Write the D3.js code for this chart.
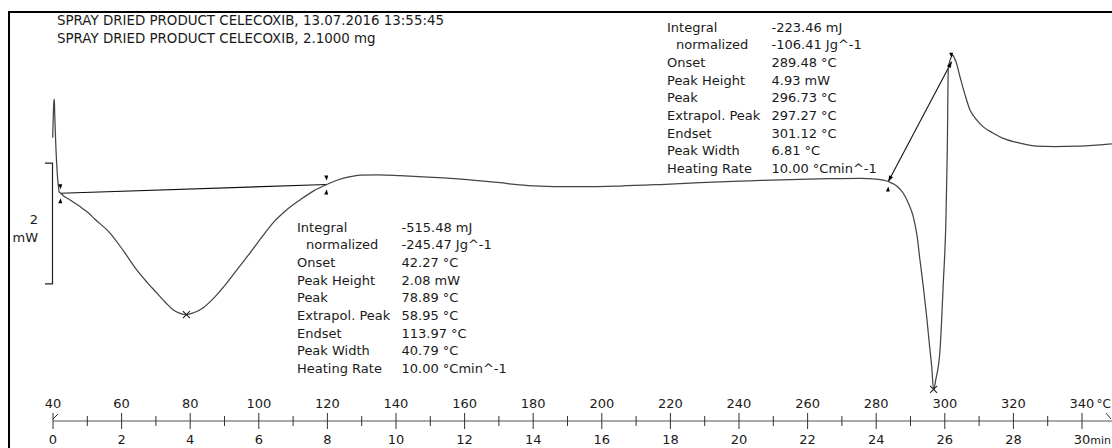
<!DOCTYPE html>
<html>
<head>
<meta charset="utf-8">
<script src="https://cdn.jsdelivr.net/npm/d3@7"></script>
<style>
  html, body { margin: 0; padding: 0; background: #fff; }
  svg { display: block; }
  text { font-family: "DejaVu Sans", sans-serif; fill: #1a1a1a; }
</style>
</head>
<body>
<svg id="chart" width="1112" height="448"></svg>
<script>
// DSC run: heat flow (mW) against sample temperature (°C), 10 K/min
const temperature = [
  39.91, 40.05, 40.25, 40.38, 40.5, 40.8, 41.2, 41.6, 41.84, 42.24, 43.0, 44.96, 47.87, 50.0,
  52.24, 56.62, 60.5, 64.4, 67.5, 70.23, 72.8, 74.99, 77.0, 78.89, 81.0, 83.73, 87.0, 90.64,
  94.0, 97.43, 101.0, 104.14, 108.0, 112.01, 116.0, 119.8, 123.0, 126.59, 129.5, 135.0, 141.17,
  148.0, 155.74, 163.0, 170.32, 176.0, 181.98, 189.77, 197.0, 205.31, 217.0, 228.63, 243.0,
  257.78, 266.0, 275.28, 280.0, 283.53, 286.0, 287.9, 289.5, 290.82, 291.9, 292.77, 293.8,
  294.72, 295.5, 296.18, 296.73, 297.4, 298.6, 299.56, 300.35, 300.73, 301.02, 301.5, 302.0,
  302.31, 302.8, 303.27, 304.43, 305.9, 307.35, 309.1, 311.22, 314.0, 317.05, 321.9, 326.8,
  332.0, 338.45, 343.0, 348.7
];
const heatFlow = [
  0.70, 1.00, 1.30, 1.34, 1.10, 0.60, 0.15, -0.12, -0.20, -0.22, -0.26, -0.33, -0.44, -0.53,
  -0.65, -0.88, -1.17, -1.49, -1.70, -1.87, -2.03, -2.15, -2.21, -2.23, -2.20, -2.12, -1.95, -1.71,
  -1.46, -1.21, -0.94, -0.71, -0.50, -0.33, -0.18, -0.075, 0.00, 0.055, 0.08, 0.085, 0.071,
  0.05, 0.028, -0.005, -0.045, -0.08, -0.10, -0.11, -0.11, -0.10, -0.075, -0.045, -0.015,
  0.012, 0.022, 0.028, 0.015, -0.025, -0.10, -0.22, -0.40, -0.61, -0.92, -1.33, -1.80,
  -2.27, -2.72, -3.09, -3.47, -3.30, -2.82, -1.71, -0.61, 0.50, 1.85, 1.98, 2.05,
  2.07, 2.02, 1.96, 1.71, 1.41, 1.16, 1.01, 0.88, 0.78, 0.69, 0.61, 0.56,
  0.555, 0.56, 0.575, 0.60
];

// integration baselines of the two evaluated events: [T, mW] end points
const baselineWater = [[42.24, -0.22], [119.8, -0.075]];
const baselineMelt = [[283.53, -0.025], [302.0, 1.96]];
// peak positions (°C) and their heat flow (mW)
const peakTemps = [78.89, 296.73];
const peakFlows = [-2.23, -3.47];

// axis ticks
const tempTicks = d3.range(40, 341, 20);
const tempMinorTicks = d3.range(50, 340, 20);
const timeTicks = d3.range(0, 31, 2);

// scale bar of the ordinate (2 mW)
const scaleBar = [-1.72, 0.28];
const scaleBarLabel = ["2", "mW"];

const headerLines = [
  "SPRAY DRIED PRODUCT CELECOXIB, 13.07.2016 13:55:45",
  "SPRAY DRIED PRODUCT CELECOXIB, 2.1000 mg"
];

const evalLabels = ["Integral", " normalized", "Onset", "Peak Height", "Peak", "Extrapol. Peak", "Endset", "Peak Width", "Heating Rate"];
const evalWater = ["-515.48 mJ", "-245.47 Jg^-1", "42.27 °C", "2.08 mW", "78.89 °C", "58.95 °C", "113.97 °C", "40.79 °C", "10.00 °Cmin^-1"];
const evalMelt = ["-223.46 mJ", "-106.41 Jg^-1", "289.48 °C", "4.93 mW", "296.73 °C", "297.27 °C", "301.12 °C", "6.81 °C", "10.00 °Cmin^-1"];

const svg = d3.select("#chart");

const x = d3.scaleLinear().domain([40, 340]).range([53, 1082]);
const xTime = d3.scaleLinear().domain([0, 30]).range([53, 1082]);
const y = d3.scaleLinear().domain([-4, 3]).range([421.4, -1.05]);

const FS = 13;

// frame
svg.append("line").attr("x1", 9).attr("x2", 1112).attr("y1", 12).attr("y2", 12)
  .attr("stroke", "#000").attr("stroke-width", 2);
svg.append("line").attr("x1", 9).attr("x2", 9).attr("y1", 11).attr("y2", 448)
  .attr("stroke", "#000").attr("stroke-width", 2);

// header
svg.selectAll("text.header").data(headerLines).join("text")
  .attr("class", "header")
  .attr("x", 57).attr("y", (d, i) => 25 + i * 18)
  .attr("font-size", 13.4)
  .text(d => d);

// ordinate scale bar
const sb = svg.append("g").attr("stroke", "#222").attr("fill", "none").attr("stroke-width", 1.2);
sb.append("path").attr("d", `M45,${y(scaleBar[1])}H52.5V${y(scaleBar[0])}H45`);
svg.selectAll("text.sbl").data(scaleBarLabel).join("text")
  .attr("class", "sbl")
  .attr("x", 38).attr("y", (d, i) => y((scaleBar[0] + scaleBar[1]) / 2) + 1 + i * 18)
  .attr("text-anchor", "end")
  .attr("font-size", FS)
  .text(d => d);

// integration baselines
const lineGen = d3.line().x(d => x(d[0])).y(d => y(d[1]));
svg.append("path").attr("d", lineGen(baselineWater))
  .attr("stroke", "#111").attr("stroke-width", 1.1).attr("fill", "none");
svg.append("path").attr("d", lineGen(baselineMelt))
  .attr("stroke", "#111").attr("stroke-width", 1.1).attr("fill", "none");

// measured curve
const curve = d3.line()
  .x((d, i) => x(temperature[i]))
  .y((d, i) => y(heatFlow[i]))
  .curve(d3.curveMonotoneX);
svg.append("path").attr("d", curve(temperature))
  .attr("stroke", "#444").attr("stroke-width", 1.25).attr("fill", "none");

// limit markers: small triangles above and below an end point
function limitMarks(pt, up, down) {
  const cx = x(pt[0]), cy = y(pt[1]);
  if (up) svg.append("path").attr("d", `M${cx - 2.5},${cy - 9}L${cx + 1.5},${cy - 9}L${cx},${cy - 4}Z`).attr("fill", "#000");
  if (down) svg.append("path").attr("d", `M${cx - 2.5},${cy + 10}L${cx + 1.5},${cy + 10}L${cx},${cy + 5}Z`).attr("fill", "#000");
}
limitMarks(baselineWater[0], true, true);
limitMarks(baselineWater[1], true, true);
limitMarks(baselineMelt[0], false, true);
limitMarks(baselineMelt[1], true, false);

// arrow heads on the second baseline
function arrowHead(from, to) {
  const x0 = x(from[0]), y0 = y(from[1]), x1 = x(to[0]), y1 = y(to[1]);
  const a = Math.atan2(y1 - y0, x1 - x0);
  const L = 6, W = 2.2;
  const bx = x1 - L * Math.cos(a), by = y1 - L * Math.sin(a);
  svg.append("path")
    .attr("d", `M${x1},${y1}L${bx - W * Math.sin(a)},${by + W * Math.cos(a)}L${bx + W * Math.sin(a)},${by - W * Math.cos(a)}Z`)
    .attr("fill", "#000");
}
arrowHead(baselineMelt[1], baselineMelt[0]);
arrowHead(baselineMelt[0], baselineMelt[1]);

// peak crosses
svg.selectAll("path.cross").data(peakTemps).join("path")
  .attr("class", "cross")
  .attr("d", (d, i) => {
    const cx = x(d), cy = y(peakFlows[i]), r = 3.5;
    return `M${cx - r},${cy - r}L${cx + r},${cy + r}M${cx - r},${cy + r}L${cx + r},${cy - r}`;
  })
  .attr("stroke", "#222").attr("stroke-width", 1.1);

// evaluation tables
function evalTable(x0, y0, values) {
  const g = svg.append("g");
  g.selectAll("text.lab").data(evalLabels).join("text")
    .attr("x", (d, i) => x0 + (i === 1 ? 9 : 0))
    .attr("y", (d, i) => y0 + i * 17.7)
    .attr("font-size", FS)
    .text(d => d.trim());
  g.selectAll("text.val").data(values).join("text")
    .attr("x", x0 + 104.5)
    .attr("y", (d, i) => y0 + i * 17.7)
    .attr("font-size", FS)
    .text(d => d);
}
evalTable(297, 231.5, evalWater);
evalTable(667, 31.5, evalMelt);

// abscissa: temperature above, time below
const axisY = 421;
const ax = svg.append("g");
ax.append("line").attr("x1", x(40)).attr("x2", 1112).attr("y1", axisY).attr("y2", axisY)
  .attr("stroke", "#555").attr("stroke-width", 1.2);
ax.selectAll("line.major").data(tempTicks).join("line")
  .attr("x1", d => x(d)).attr("x2", d => x(d))
  .attr("y1", axisY - 8).attr("y2", axisY + 8)
  .attr("stroke", "#333").attr("stroke-width", 1);
ax.selectAll("line.minor").data(tempMinorTicks).join("line")
  .attr("x1", d => x(d)).attr("x2", d => x(d))
  .attr("y1", axisY - 5).attr("y2", axisY + 5)
  .attr("stroke", "#333").attr("stroke-width", 1);
// start and end flags of the axis
ax.append("line").attr("x1", x(40)).attr("y1", axisY - 2).attr("x2", x(40) + 5).attr("y2", axisY - 7)
  .attr("stroke", "#333").attr("stroke-width", 1);
ax.append("line").attr("x1", 1106).attr("y1", axisY - 8).attr("x2", 1111).attr("y2", axisY - 2)
  .attr("stroke", "#333").attr("stroke-width", 1);

ax.selectAll("text.temp").data(tempTicks).join("text")
  .attr("x", d => x(d)).attr("y", axisY - 13)
  .attr("text-anchor", "middle").attr("font-size", FS)
  .text(d => d);
ax.selectAll("text.time").data(timeTicks).join("text")
  .attr("x", d => xTime(d)).attr("y", axisY + 23)
  .attr("text-anchor", "middle").attr("font-size", FS)
  .text(d => d);
// units at the right end of both scales, kept inside the page
ax.append("text").attr("x", 1111).attr("y", axisY - 13).attr("text-anchor", "end")
  .attr("font-size", 12).text("°C");
ax.append("text").attr("x", 1111).attr("y", axisY + 23).attr("text-anchor", "end")
  .attr("font-size", 11).text("min");
</script>
</body>
</html>
